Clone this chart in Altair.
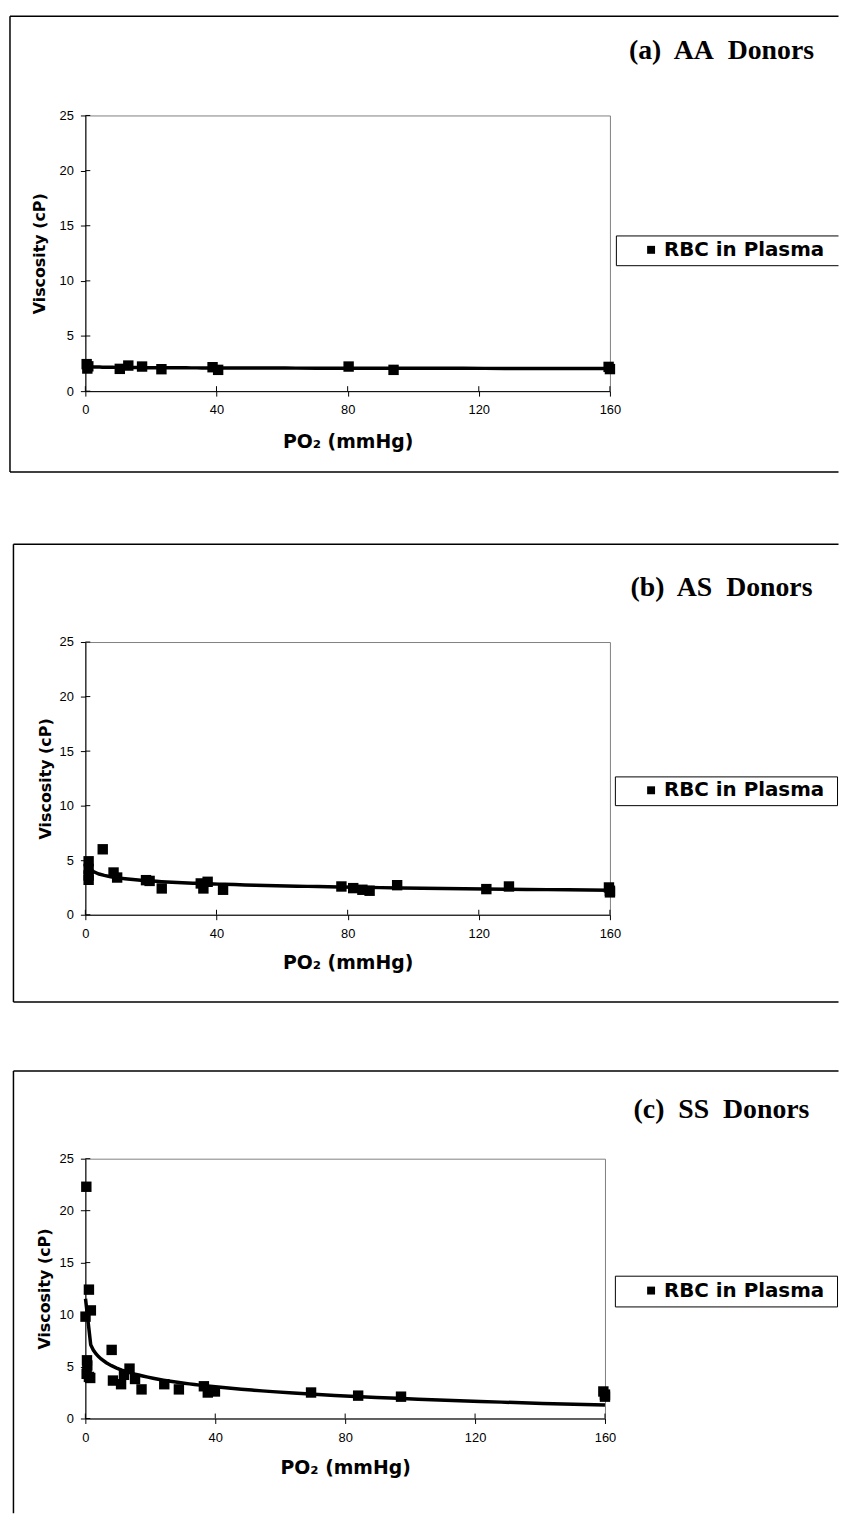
import altair as alt
import pandas as pd

# ---------------- data ----------------
series_name = "RBC in Plasma"
NB = "\u00a0"
panel_titles = ["(a)" + NB + " AA" + NB + " Donors",
                "(b)" + NB + " AS" + NB + " Donors",
                "(c)" + NB + " SS" + NB + " Donors"]
x_title = "PO\u2082 (mmHg)"
y_title = "Viscosity (cP)"
x_ticks = [0, 40, 80, 120, 160]
y_ticks = [0, 5, 10, 15, 20, 25]

aa_po2 = [0.4, 0.6, 0.9, 10.5, 13.1, 17.3, 23.2, 38.8, 40.5, 80.3, 94.0, 159.6, 160.0]
aa_visc = [2.45, 2.05, 2.25, 2.02, 2.32, 2.23, 1.99, 2.17, 1.93, 2.23, 1.93, 2.2, 2.0]

as_po2 = [1.0, 1.0, 1.0, 1.0, 5.3, 8.6, 9.7, 18.5, 19.6, 23.3, 35.2, 36.0, 37.3, 42.0,
          78.1, 81.7, 84.5, 86.7, 95.1, 122.3, 129.2, 159.7, 160.0, 160.0]
as_visc = [4.9, 4.2, 3.6, 3.2, 6.0, 3.87, 3.41, 3.17, 3.1, 2.41, 2.87, 2.41, 3.02, 2.29,
           2.59, 2.44, 2.29, 2.2, 2.71, 2.35, 2.59, 2.5, 2.2, 2.05]

ss_po2 = [0.05, 0.3, 0.5, 0.6, 0.4, 1.1, 1.1, 1.7, 1.5, 8.1, 8.5, 11.0, 11.9, 13.6, 15.3,
          17.3, 24.3, 28.8, 36.5, 37.7, 39.9, 69.5, 84.0, 97.2, 159.5, 160.0, 160.0]
ss_visc = [9.8, 22.3, 5.6, 5.1, 4.3, 12.4, 4.0, 10.4, 3.9, 6.6, 3.65, 3.3, 4.2, 4.8, 3.8,
           2.8, 3.3, 2.8, 3.1, 2.5, 2.6, 2.5, 2.2, 2.1, 2.6, 2.3, 2.1]

# ---------------- layout (page pixels) ----------------
OX = 85.5            # common left edge of the plot areas
FRAME_RIGHT = 845
PANELS = [
    dict(oy=109.5, w=529, h=278, frame_left=9.5, frame_top=9.5, frame_bottom=469,
         spacer_y=None, title_y=45, xtitle_y=438, ytitle_x=39,
         leg=(621, 845, 231, 261), leg_closed=False),
    dict(oy=640, w=529, h=275, frame_left=13, frame_top=541.5, frame_bottom=1003,
         spacer_y=472, title_y=586, xtitle_y=963, ytitle_x=45,
         leg=(620, 844, 776, 805), leg_closed=True),
    dict(oy=1160.5, w=524, h=262, frame_left=13, frame_top=1072, frame_bottom=None,
         spacer_y=1006, title_y=1111, xtitle_y=1472, ytitle_x=44,
         leg=(620, 844, 1279, 1310), leg_closed=True),
]
PAGE_BOTTOM = 1518
FRAME_SW = 1.5


def panel(p, po2, visc, title):
    ox, oy, w, h = OX, p["oy"], p["w"], p["h"]

    def rx(v):
        return v - ox

    def ry(v):
        return v - oy

    one = alt.Data(values=[{}])
    df = pd.DataFrame({"po2": po2, "visc": visc, "series": [series_name] * len(po2)})
    xs = alt.Scale(domain=[x_ticks[0], x_ticks[-1]], nice=False, zero=False)
    ys = alt.Scale(domain=[y_ticks[0], y_ticks[-1]], nice=False)
    xaxis = alt.Axis(
        values=x_ticks, title=x_title, grid=False, tickSize=5, tickColor="black",
        domainColor="black", labelFont="Liberation Sans", labelFontSize=13,
        labelColor="black", labelPadding=8, labelFlush=False,
        titleFont="DejaVu Sans", titleFontWeight="bold", titleFontSize=19,
        titleColor="black", titleX=w / 2, titleY=p["xtitle_y"] - (oy + h),
        titleBaseline="middle", titleAlign="center")
    yaxis = alt.Axis(
        values=y_ticks, title=y_title, grid=False, tickSize=5, tickColor="black",
        domainColor="black", labelFont="Liberation Sans", labelFontSize=13,
        labelColor="black", labelPadding=7, labelFlush=False,
        titleFont="DejaVu Sans", titleFontWeight="bold", titleFontSize=16,
        titleColor="black", titleX=p["ytitle_x"] - ox, titleY=h / 2, titleAngle=270,
        titleBaseline="middle", titleAlign="center")

    def hrule(x1, x2, y, color="black", sw=FRAME_SW):
        return alt.Chart(one).mark_rule(color=color, strokeWidth=sw).encode(
            x=alt.value(rx(x1)), x2=alt.value(rx(x2)), y=alt.value(ry(y)))

    def vrule(x, y1, y2, color="black", sw=FRAME_SW):
        return alt.Chart(one).mark_rule(color=color, strokeWidth=sw).encode(
            x=alt.value(rx(x)), y=alt.value(ry(y1)), y2=alt.value(ry(y2)))

    layers = []
    if p["spacer_y"] is not None:
        layers.append(vrule(9.5, p["spacer_y"], p["spacer_y"] + 8, color="white"))
    fb = p["frame_bottom"] if p["frame_bottom"] is not None else PAGE_BOTTOM
    layers.append(vrule(p["frame_left"], p["frame_top"], fb))
    layers.append(hrule(p["frame_left"], FRAME_RIGHT, p["frame_top"]))
    if p["frame_bottom"] is not None:
        layers.append(hrule(p["frame_left"], FRAME_RIGHT, p["frame_bottom"]))

    # legend box
    lx0, lx1, ly0, ly1 = p["leg"]
    if p["leg_closed"]:
        layers.append(alt.Chart(one).mark_rect(fill="white", stroke="black", strokeWidth=1).encode(
            x=alt.value(rx(lx0)), x2=alt.value(rx(lx1)), y=alt.value(ry(ly0)), y2=alt.value(ry(ly1))))
    else:
        layers.append(vrule(lx0, ly0, ly1, sw=1))
        layers.append(hrule(lx0, lx1, ly0, sw=1))
        layers.append(hrule(lx0, lx1, ly1, sw=1))

    # panel title
    layers.append(alt.Chart(one).mark_text(
        font="Liberation Serif", fontWeight="bold", fontSize=28, align="center",
        baseline="middle", color="black").encode(
        x=alt.value(rx(727)), y=alt.value(ry(p["title_y"])), text=alt.value(title)))

    # inner halves of the cross tick marks
    tdf_y = pd.DataFrame({"v": y_ticks})
    tdf_x = pd.DataFrame({"v": x_ticks})
    layers.append(alt.Chart(tdf_y).mark_rule(color="black", strokeWidth=1).encode(
        y=alt.Y("v:Q", scale=ys, axis=yaxis), x=alt.value(0), x2=alt.value(5)))
    layers.append(alt.Chart(tdf_x).mark_rule(color="black", strokeWidth=1).encode(
        x=alt.X("v:Q", scale=xs, axis=xaxis), y=alt.value(h - 5), y2=alt.value(h)))

    # trend line (logarithmic fit computed by Vega)
    layers.append(alt.Chart(df).transform_regression("po2", "visc", method="log").mark_line(
        color="black", strokeWidth=3.5).encode(
        x=alt.X("po2:Q", scale=xs, axis=xaxis), y=alt.Y("visc:Q", scale=ys, axis=yaxis)))

    lc = (ly0 + ly1) / 2
    points = alt.Chart(df).mark_point(filled=True, color="black", opacity=1, size=110).encode(
        x=alt.X("po2:Q", scale=xs, axis=xaxis),
        y=alt.Y("visc:Q", scale=ys, axis=yaxis),
        shape=alt.Shape("series:N", scale=alt.Scale(domain=[series_name], range=["square"]),
                        legend=alt.Legend(
                            orient="none", legendX=rx(646), legendY=ry(lc - 11), title=None,
                            padding=0, symbolType="square", symbolSize=64,
                            symbolFillColor="black", symbolStrokeWidth=0,
                            labelFont="DejaVu Sans", labelFontWeight="bold",
                            labelFontSize=20, labelColor="black", labelOffset=3,
                            labelLimit=400)),
    )
    layers.append(points)

    return alt.layer(*layers).properties(width=w, height=h)


chart = alt.vconcat(
    panel(PANELS[0], aa_po2, aa_visc, panel_titles[0]),
    panel(PANELS[1], as_po2, as_visc, panel_titles[1]),
    panel(PANELS[2], ss_po2, ss_visc, panel_titles[2]),
    spacing=0,
).resolve_scale(shape="independent").resolve_legend(shape="independent").properties(
    padding=0, background="white"
).configure_view(stroke="#808080", strokeWidth=1)

chart.save("out.html", embed_options={"renderer": "svg", "actions": False})
